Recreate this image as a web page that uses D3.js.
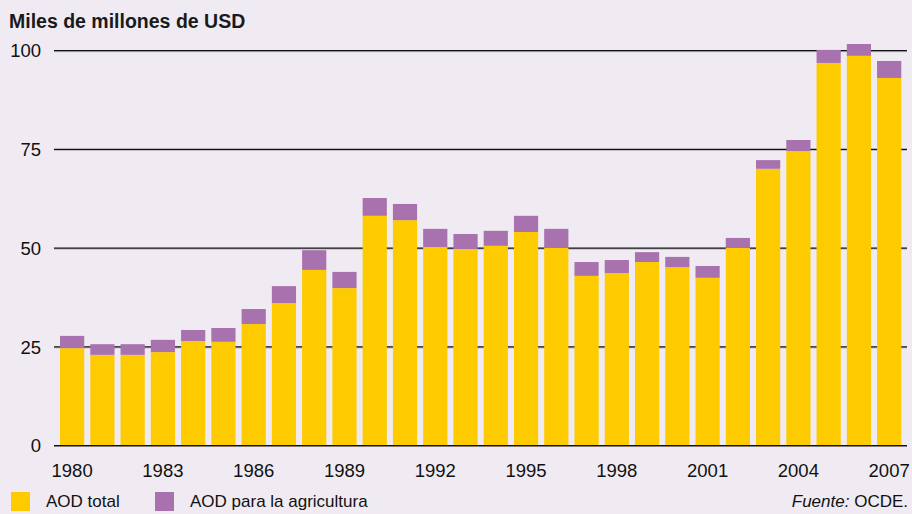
<!DOCTYPE html>
<html>
<head>
<meta charset="utf-8">
<script src="https://cdn.jsdelivr.net/npm/d3@7"></script>
<style>
  html, body { margin: 0; padding: 0; background: #f0ebf3; }
  svg { display: block; font-family: "Liberation Sans", Arial, sans-serif; }
</style>
</head>
<body>
<svg id="chart" width="912" height="514"></svg>
<script>
// Official development assistance, thousands of millions of USD
const years = d3.range(1980, 2008);
// yellow segment: AOD total
const aodTotal = [24.7, 23.0, 23.0, 23.7, 26.5, 26.3, 30.8, 36.1, 44.5, 39.9,
                  58.2, 57.1, 50.3, 49.8, 50.6, 54.1, 50.1, 43.0, 43.7, 46.5,
                  45.2, 42.5, 50.1, 70.1, 74.6, 96.9, 98.7, 93.1];
// purple segment stacked on top: AOD for agriculture
const aodAgri = [3.1, 2.7, 2.7, 3.1, 2.8, 3.5, 3.8, 4.3, 5.0, 4.1,
                 4.5, 4.1, 4.6, 3.8, 3.8, 4.1, 4.8, 3.5, 3.3, 2.5,
                 2.6, 3.0, 2.5, 2.2, 2.8, 3.3, 3.0, 4.3];
const yTicks = [0, 25, 50, 75, 100];
const xTickYears = [1980, 1983, 1986, 1989, 1992, 1995, 1998, 2001, 2004, 2007];
const seriesNames = ["AOD total", "AOD para la agricultura"];
const colors = ["#fdcb00", "#a872ae"];

const svg = d3.select("#chart");

const x = d3.scaleBand()
  .domain(years)
  .range([57, 904.3])
  .paddingInner(0.2)
  .paddingOuter(0.1);

const y = d3.scaleLinear()
  .domain([0, 100])
  .range([445.7, 50.7]);

// gridlines (behind bars)
const grid = svg.append("g");
yTicks.filter(t => t > 0).forEach(t => {
  grid.append("line")
    .attr("x1", 54).attr("x2", 907)
    .attr("y1", y(t) + 1).attr("y2", y(t) + 1)
    .attr("stroke", "#c3bcc6").attr("stroke-width", 1.2);
  grid.append("line")
    .attr("x1", 54).attr("x2", 907)
    .attr("y1", y(t)).attr("y2", y(t))
    .attr("stroke", "#111").attr("stroke-width", 1.3);
});

// stacked bars
const rows = years.map((yr, i) => ({ year: yr, total: aodTotal[i], agri: aodAgri[i] }));
const stacked = d3.stack().keys(["total", "agri"])(rows);

svg.append("g").selectAll("g")
  .data(stacked)
  .join("g")
  .attr("fill", (d, i) => colors[i])
  .selectAll("rect")
  .data(d => d)
  .join("rect")
  .attr("x", d => x(d.data.year))
  .attr("width", x.bandwidth())
  .attr("y", d => y(d[1]))
  .attr("height", d => y(d[0]) - y(d[1]));

// baseline
svg.append("line")
  .attr("x1", 54).attr("x2", 907)
  .attr("y1", y(0)).attr("y2", y(0))
  .attr("stroke", "#111").attr("stroke-width", 1.5);

// y tick labels
svg.append("g").selectAll("text")
  .data(yTicks)
  .join("text")
  .attr("x", 41)
  .attr("y", d => y(d))
  .attr("dy", "0.36em")
  .attr("text-anchor", "end")
  .attr("font-size", 18.5)
  .attr("fill", "#111")
  .text(d => d);

// x tick labels
svg.append("g").selectAll("text")
  .data(xTickYears)
  .join("text")
  .attr("x", d => x(d) + x.bandwidth() / 2)
  .attr("y", 477)
  .attr("text-anchor", "middle")
  .attr("font-size", 18.5)
  .attr("fill", "#111")
  .text(d => d);

// unit title
svg.append("text")
  .attr("x", 9).attr("y", 28)
  .attr("font-size", 19.5)
  .attr("font-weight", "bold")
  .attr("fill", "#1a1a1a")
  .text("Miles de millones de USD");

// legend
const legendX = [11, 155];
seriesNames.forEach((name, i) => {
  svg.append("rect")
    .attr("x", legendX[i]).attr("y", 492)
    .attr("width", 19).attr("height", 19)
    .attr("fill", colors[i]);
  svg.append("text")
    .attr("x", legendX[i] + 35).attr("y", 507)
    .attr("font-size", 17)
    .attr("fill", "#111")
    .text(name);
});

// source note
const src = svg.append("text")
  .attr("x", 908).attr("y", 507)
  .attr("text-anchor", "end")
  .attr("font-size", 17)
  .attr("fill", "#111");
src.append("tspan").attr("font-style", "italic").text("Fuente:");
src.append("tspan").text(" OCDE.");
</script>
</body>
</html>
